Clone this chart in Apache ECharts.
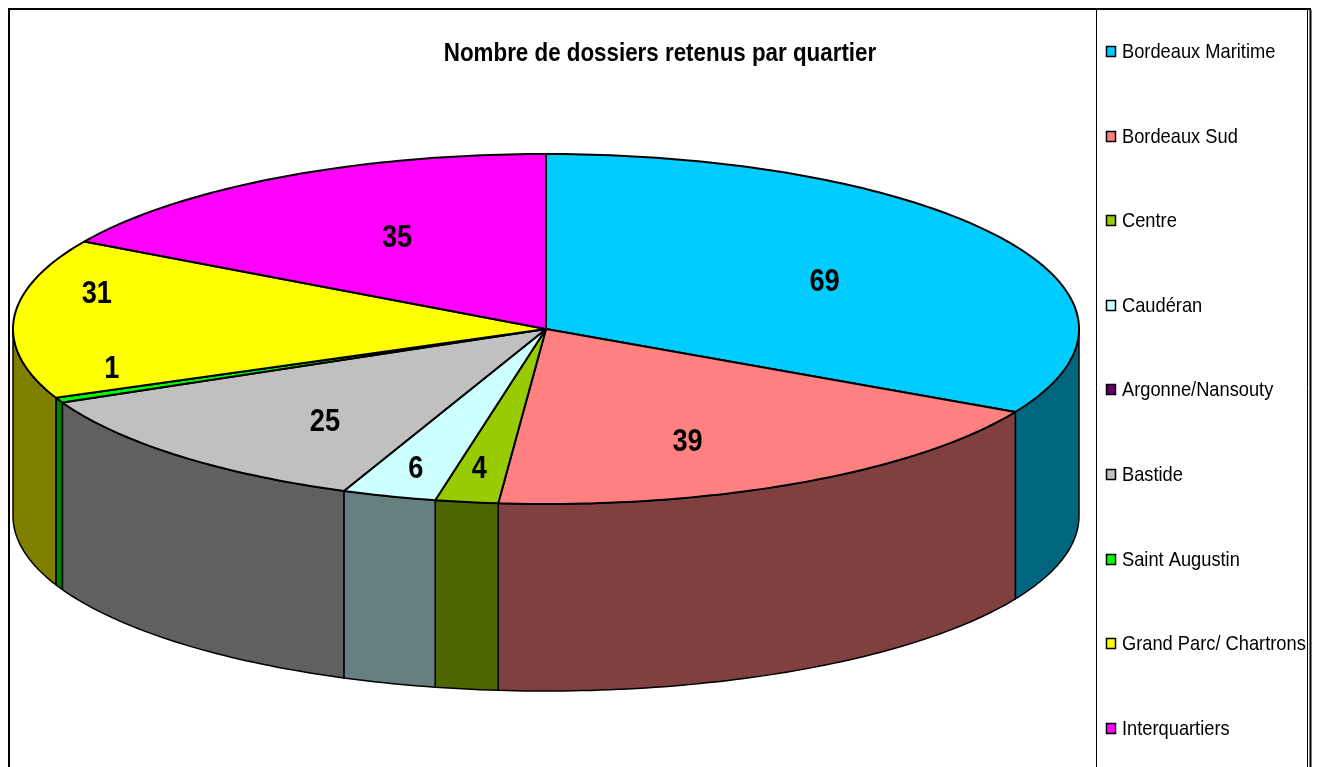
<!DOCTYPE html>
<html>
<head>
<meta charset="utf-8">
<title>Nombre de dossiers retenus par quartier</title>
<script src="https://cdn.jsdelivr.net/npm/echarts@6/dist/echarts.min.js"></script>
<style>
html, body { margin: 0; padding: 0; background: #fff; }
#chart { width: 1319px; height: 767px; }
</style>
</head>
<body>
<div id="chart"></div>
<script>
// donnees
const quartiers = ['Bordeaux Maritime', 'Bordeaux Sud', 'Centre', 'Caudéran', 'Argonne/Nansouty', 'Bastide', 'Saint Augustin', 'Grand Parc/ Chartrons', 'Interquartiers'];
const dossiers = [69, 39, 4, 6, 0, 25, 1, 31, 35];
const couleurs = ['#00CCFF', '#FF8080', '#99CC00', '#CCFFFF', '#660066', '#C0C0C0', '#00FF00', '#FFFF00', '#FF00FF'];
const couleursFlanc = ['#006680', '#804040', '#4D6600', '#668080', '#330033', '#606060', '#008000', '#808000', '#800080'];
// decalage des etiquettes par rapport a leur position radiale
const decalageLabel = [[4, 7], [-10, 21], [-19, 36], [-36, 40], [0, 0], [0, 17], [-142, -3], [-130, -29], [11, 0]];

// geometrie du camembert
const CX = 546, CY = 329, RX = 533, RY = 175, DEPTH = 187;
const POLICE = '"Liberation Sans"';
//pas de police etroite installee, on comprime le texte
const ETROIT_TITRE = 0.86, ETROIT_LEGENDE = 0.87, ETROIT_LABEL = 0.85;

const total = dossiers.reduce((a, b) => a + b, 0);

function point(angle, dy) {
    let r = angle * Math.PI / 180;
    return [CX + RX * Math.sin(r), CY - RY * Math.cos(r) + (dy || 0)];
}

function arc(a1, a2, dy) {
    let pts = [];
    let n = Math.max(1, Math.ceil(Math.abs(a2 - a1)));
    for (let i = 0; i <= n; i++) {
        pts.push(point(a1 + (a2 - a1) * i / n, dy));
    }
    return pts;
}

function makeRender(idx) {
    return function (params, api) {
        let before = api.value(0);
        let val = api.value(1);
        if (!val) return { type: 'group', children: [] };
        let a1 = before / total * 360;
        let a2 = (before + val) / total * 360;
        let children = [];
        // flanc visible seulement sur la moitie avant
        let w1 = Math.max(a1, 90), w2 = Math.min(a2, 270);
        if (w2 > w1) {
            children.push({
                type: 'polygon',
                z2: 1,
                shape: { points: arc(w1, w2, 0).concat(arc(w2, w1, DEPTH)) },
                style: { fill: couleursFlanc[idx], stroke: '#000', lineWidth: 1.5, lineJoin: 'round' }
            });
        }
        children.push({
            type: 'polygon',
            z2: 2,
            shape: { points: [[CX, CY]].concat(arc(a1, a2, 0)) },
            style: { fill: couleurs[idx], stroke: '#000', lineWidth: 2, lineJoin: 'round' }
        });
        let mid = point((a1 + a2) / 2, 0);
        children.push({
            type: 'text',
            z2: 3,
            x: CX + (mid[0] - CX) * 0.6 + decalageLabel[idx][0],
            y: CY + (mid[1] - CY) * 0.6 + decalageLabel[idx][1],
            scaleX: ETROIT_LABEL,
            style: {
                text: String(val),
                align: 'center',
                verticalAlign: 'middle',
                fill: '#000',
                font: 'bold 32px ' + POLICE
            }
        });
        return { type: 'group', children: children };
    };
}

let cumul = 0;
let series = [];
quartiers.forEach((q, i) => {
    series.push({
        name: q,
        type: 'custom',
        coordinateSystem: 'none',
        silent: true,
        animation: false,
        itemStyle: { color: couleurs[i] },
        data: [[cumul, dossiers[i]]],
        renderItem: makeRender(i)
    });
    cumul += dossiers[i];
});

function trait(x1, y1, x2, y2, w) {
    return { type: 'line', silent: true, shape: { x1: x1, y1: y1, x2: x2, y2: y2 }, style: { stroke: '#000', lineWidth: w } };
}

let graphics = [
    trait(8, 9, 1311, 9, 2),
    trait(9, 8, 9, 767, 2),
    trait(1096.5, 10, 1096.5, 767, 1),
    trait(1307.5, 10, 1307.5, 767, 1),
    trait(1310.5, 10, 1310.5, 767, 2),
    {
        type: 'text',
        silent: true,
        x: 660,
        y: 54,
        scaleX: ETROIT_TITRE,
        style: {
            text: 'Nombre de dossiers retenus par quartier',
            align: 'center',
            verticalAlign: 'middle',
            fill: '#000',
            font: 'bold 26px ' + POLICE
        }
    }
];

// legende : une case et un texte par quartier
quartiers.forEach((q, i) => {
    let y = Math.round(51 + i * 84.6);
    graphics.push({
        type: 'rect',
        silent: true,
        shape: { x: 1106.5, y: y - 4.5, width: 9, height: 10 },
        style: { fill: couleurs[i], stroke: '#000', lineWidth: 1.5 }
    });
    graphics.push({
        type: 'text',
        silent: true,
        x: 1122,
        y: y + 1,
        scaleX: ETROIT_LEGENDE,
        style: {
            text: q,
            align: 'left',
            verticalAlign: 'middle',
            fill: '#000',
            font: '21px ' + POLICE
        }
    });
});

let chart = echarts.init(document.getElementById('chart'), null, { renderer: 'canvas' });
chart.setOption({
    animation: false,
    backgroundColor: '#fff',
    graphic: graphics,
    series: series
});

window.onresize = function () {
    chart.resize();
};
</script>
</body>
</html>
